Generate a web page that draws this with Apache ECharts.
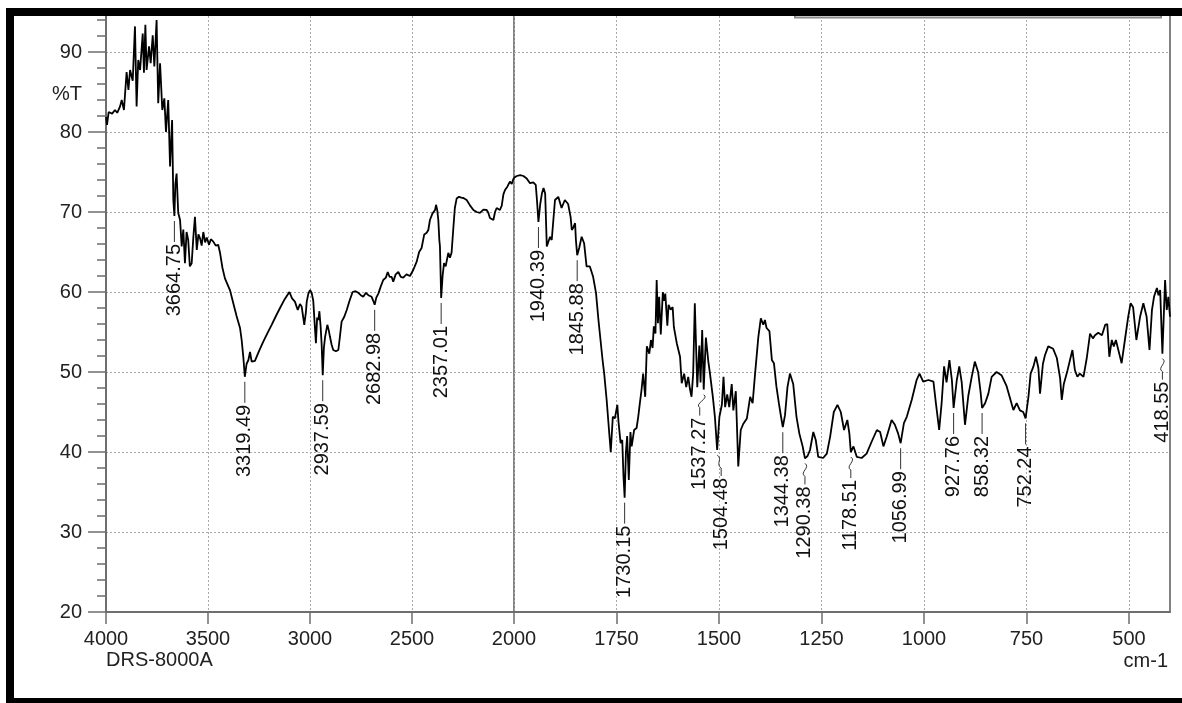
<!DOCTYPE html>
<html>
<head>
<meta charset="utf-8">
<title>FT-IR spectrum</title>
<script src="https://cdn.jsdelivr.net/npm/echarts@6/dist/echarts.min.js"></script>
<style>
  html, body { margin: 0; padding: 0; background: #fff; }
  #chart { width: 1182px; height: 703px; }
</style>
</head>
<body>
<div id="chart"></div>
<script>
// Spectrum trace, 4000-2000 cm-1 (compressed scale): [wavenumber, %T]
const spectrumHigh = [
  [4000, 81.9], [3995, 80.9], [3987, 82.5], [3970, 82.3], [3956, 82.75], [3945, 82.4],
  [3931, 83.2], [3923, 84], [3912, 82.75], [3899, 87.5], [3890, 85.25], [3882, 87.75],
  [3869, 86.4], [3858, 93.2], [3850, 83.2], [3842, 89], [3833, 87.75], [3820, 92.3],
  [3814, 87.4], [3807, 93.4], [3801, 87.75], [3789, 90.7], [3781, 88.6], [3771, 92.1],
  [3763, 88.2], [3752, 94], [3744, 83.6], [3735, 88.6], [3724, 82.75], [3714, 84.2],
  [3706, 80.0], [3695, 84], [3686, 75.7], [3676, 81.5], [3670, 71.5], [3660, 73.5],
  [3654, 74.8], [3646, 69.9], [3637, 69], [3633, 67.4], [3629, 65.7], [3621, 67.8],
  [3613, 63.6], [3605, 67.5], [3597, 66.5], [3589, 63.2], [3580, 63.6], [3572, 66.8],
  [3564, 69.4], [3555, 65.25], [3547, 67.2], [3539, 66.7], [3531, 65.8], [3523, 67.5],
  [3514, 66.2], [3506, 66.8], [3495, 65.9], [3486, 66.6], [3474, 66.3], [3462, 65.8],
  [3450, 65.9], [3441, 64.9], [3429, 63], [3417, 61.7], [3408, 61.5], [3392, 60.2],
  [3376, 58.6], [3360, 57], [3343, 55.5], [3335, 54], [3327, 51.9], [3311, 51.0],
  [3302, 51.5], [3294, 52.5], [3286, 51.3], [3270, 51.4], [3250, 52.6], [3229, 53.8],
  [3208, 54.9], [3188, 55.9], [3167, 57], [3147, 58], [3124, 59.1], [3101, 60],
  [3088, 59.2], [3074, 58.8], [3060, 57.75], [3049, 58.5], [3041, 58.2], [3033, 56.8],
  [3028, 55.9], [3020, 57.5], [3016, 58.8], [3008, 59.8], [3000, 60.25], [2992, 59.9],
  [2984, 58.9], [2977, 56], [2971, 53.6], [2965, 56.8], [2959, 56.5], [2954, 57.6],
  [2948, 55.7], [2943, 53.5], [2932, 53], [2926, 54.4], [2915, 55.9], [2908, 55.2],
  [2902, 54.4], [2894, 53.4], [2886, 52.75], [2873, 52.6], [2861, 52.75], [2853, 54.5],
  [2845, 56.3], [2832, 56.9], [2820, 57.75], [2805, 59], [2791, 60], [2777, 60.1],
  [2763, 59.9], [2751, 59.6], [2739, 59.4], [2726, 59.9], [2714, 59.6], [2705, 59.8],
  [2698, 59.4], [2690, 58.9], [2675, 59.3], [2665, 59.8], [2653, 60.7], [2641, 61.5],
  [2628, 61.8], [2619, 62.5], [2610, 61.9], [2600, 61.9], [2592, 61.3], [2580, 62.2],
  [2567, 62.5], [2555, 61.9], [2543, 61.8], [2527, 62.2], [2510, 62], [2494, 62.75],
  [2477, 63.8], [2465, 65], [2453, 65.5], [2440, 67.2], [2428, 67.4], [2420, 67.75],
  [2412, 69], [2400, 69.8], [2387, 70.25], [2382, 70.9], [2376, 70.2], [2371, 69],
  [2366, 66.5], [2363, 65.7], [2350, 62], [2343, 63.6], [2335, 63.2], [2330, 63],
  [2322, 64.9], [2314, 64.3], [2306, 64.9], [2298, 67.75], [2290, 70.5], [2281, 71.7],
  [2270, 71.9], [2258, 71.8], [2248, 71.75], [2240, 71.6], [2232, 71.5], [2215, 70.8],
  [2199, 70.25], [2183, 70], [2167, 69.9], [2150, 70.3], [2134, 70.25], [2126, 69.9],
  [2118, 69.25], [2110, 69.3], [2101, 69], [2093, 70], [2085, 70.5], [2077, 70.4],
  [2069, 70.25], [2060, 70.8], [2052, 72.2], [2044, 72.75], [2032, 73.2], [2020, 73.8],
  [2011, 73.5], [2005, 74.0], [2000, 74.3]
];

// Spectrum trace, 2000-400 cm-1 (expanded scale): [wavenumber, %T]
const spectrumLow = [
  [2000, 74.3], [1993, 74.5], [1985, 74.6], [1977, 74.5], [1969, 74.2], [1961, 73.6],
  [1953, 73.7], [1947, 73.4], [1944, 71.5], [1936, 71], [1932, 72.3], [1928, 73],
  [1924, 72.3], [1920, 65.7], [1916, 65.7], [1912, 66.9], [1908, 66.5], [1904, 69],
  [1900, 71.5], [1892, 71.9], [1884, 70.5], [1876, 71.5], [1868, 71], [1862, 69.4],
  [1859, 67.75], [1855, 68.1], [1851, 68.6], [1849, 66.5], [1841, 65.5], [1835, 66.9],
  [1829, 66.1], [1823, 63.2], [1815, 63.2], [1807, 61.9], [1800, 59.9], [1794, 56.5],
  [1789, 54], [1784, 51.5], [1780, 49.8], [1774, 46.5], [1767, 41.9], [1764, 40],
  [1759, 44.4], [1754, 44.2], [1748, 45.9], [1745, 43.7], [1740, 41.1], [1736, 41.5],
  [1733, 37], [1727, 40], [1724, 42], [1720, 36.5], [1716, 42.5], [1713, 40.7],
  [1707, 42.75], [1701, 43], [1697, 44.4], [1693, 46.1], [1689, 47.75], [1685, 49.8],
  [1680, 46.9], [1676, 53.2], [1670, 52.3], [1666, 54], [1662, 53], [1659, 55.7],
  [1655, 54.8], [1652, 61.5], [1649, 56.1], [1646, 59.4], [1642, 54.7], [1637, 60],
  [1634, 58.9], [1631, 59.8], [1626, 55.8], [1623, 58.4], [1618, 57.8], [1613, 58.1],
  [1610, 55.6], [1603, 53.6], [1595, 51.9], [1591, 48.6], [1585, 49.8], [1580, 48.1],
  [1575, 49.4], [1571, 47.9], [1567, 46.9], [1563, 49.8], [1559, 58.6], [1553, 48.1],
  [1548, 53.3], [1545, 48.7], [1541, 55.25], [1532, 54.3], [1526, 51.3], [1522, 49.8],
  [1515, 46.9], [1510, 44.4], [1499, 44.4], [1493, 45.9], [1489, 49.4], [1485, 45.6],
  [1480, 47.2], [1475, 45.6], [1469, 48.5], [1465, 45.2], [1459, 47.6], [1453, 38.2],
  [1447, 42.75], [1441, 43.5], [1432, 44.2], [1424, 46.9], [1418, 46.1], [1412, 49.8],
  [1404, 54.4], [1398, 56.7], [1392, 55.9], [1388, 56.5], [1384, 55.5], [1377, 55.1],
  [1371, 51.5], [1366, 51.1], [1360, 48.2], [1354, 46.1], [1349, 44.5], [1339, 44.6],
  [1333, 48.1], [1327, 49.8], [1319, 48.5], [1311, 44.4], [1304, 42.3], [1296, 40.7],
  [1284, 39.5], [1278, 40.25], [1270, 42.5], [1264, 41.5], [1258, 39.4], [1246, 39.25],
  [1237, 39.8], [1229, 41.9], [1220, 45], [1211, 45.9], [1203, 45], [1195, 42.75],
  [1187, 44], [1182, 42.3], [1172, 40.7], [1164, 39.4], [1152, 39.25], [1140, 39.8],
  [1128, 41.25], [1115, 42.75], [1107, 42.5], [1099, 40.7], [1091, 41.9], [1079, 44],
  [1071, 43.4], [1063, 42.3], [1049, 43.6], [1042, 44.4], [1030, 46.5], [1018, 49],
  [1011, 49.8], [1002, 48.8], [989, 49], [977, 48.8], [971, 46.1], [963, 42.75],
  [957, 46.1], [951, 50.7], [945, 48.7], [938, 51.5], [932, 49], [920, 49],
  [914, 50.7], [908, 48.7], [900, 43.4], [892, 47], [884, 49.3], [876, 51.3],
  [868, 50], [862, 47.5], [851, 46.1], [843, 47.3], [835, 49.4], [823, 50],
  [811, 49.6], [799, 48.3], [790, 46.7], [782, 45.25], [774, 46.1], [766, 45.2],
  [758, 45], [745, 47], [740, 49.8], [733, 50.7], [727, 51.9], [721, 50.5],
  [717, 47.3], [710, 51], [705, 52.1], [697, 53.2], [685, 52.9], [676, 51.75],
  [668, 49.2], [664, 46.5], [659, 48.5], [650, 50.2], [642, 51.9], [638, 52.75],
  [632, 50.25], [626, 49.4], [620, 49.8], [611, 49.4], [603, 51.75], [595, 54.8],
  [588, 54.2], [583, 54.6], [575, 54.9], [566, 54.6], [558, 55.9], [553, 56],
  [548, 51.9], [542, 54], [537, 53.2], [532, 54], [526, 52.75], [518, 51.1],
  [510, 54], [502, 56.9], [496, 58.6], [490, 58.1], [482, 54], [473, 56.9],
  [465, 58.6], [457, 56.9], [450, 52.75], [444, 57.75], [439, 59.4], [432, 60.5],
  [428, 59.6], [424, 60.25], [412, 61.5], [408, 57.75], [404, 59.4], [400, 56.9]
];

// Picked band minima: wavenumber (cm-1) and transmittance (%T)
const peakWavenumbers = [
  3664.75, 3319.49, 2937.59, 2682.98, 2357.01, 1940.39, 1845.88, 1730.15, 1537.27,
  1504.48, 1344.38, 1290.38, 1178.51, 1056.99, 927.76, 858.32, 752.24, 418.55
];
const peakTransmittance = [
  69.5, 49.4, 49.6, 58.4, 59.25, 68.75, 64.6, 34.3, 47.8,
  40.25, 43.1, 39.2, 40.0, 41.1, 45.5, 45.5, 44.2, 52.3
];

// Axis ticks
const xTicksHigh = [4000, 3500, 3000, 2500, 2000];
const xTicksLow = [1750, 1500, 1250, 1000, 750, 500];
const yTicks = [20, 30, 40, 50, 60, 70, 80, 90];

// Peaks whose label is tied to the band with a kinked leader,
// and sideways nudges (px) for labels that would otherwise collide
const KINKED = [1537.27, 1504.48, 1290.38, 1178.51, 418.55];
const LABEL_NUDGE = { '1537.27': -4, '1504.48': 4 };

const FONT = '"Liberation Sans", Arial, Helvetica, sans-serif';
const AXIS_COLOR = '#6e6e6e';
const GRID_LINE = { show: true, lineStyle: { color: '#a8a8a8', type: [2, 2], width: 1 } };

function mergePeaks(trace, lo, hi) {
  const pts = trace.slice();
  peakWavenumbers.forEach(function (wn, i) {
    if (wn >= lo && wn <= hi) pts.push([wn, peakTransmittance[i]]);
  });
  return pts.sort(function (a, b) { return b[0] - a[0]; });
}

function peakData(lo, hi) {
  const out = [];
  peakWavenumbers.forEach(function (wn, i) {
    if (wn >= lo && wn <= hi) out.push([wn, peakTransmittance[i]]);
  });
  return out;
}

function renderPeak(params, api) {
  const wn = api.value(0);
  const label = wn.toFixed(2);
  const p = api.coord([wn, api.value(1)]);
  const x = p[0];
  const lx = x + (LABEL_NUDGE[label] || 0);
  const y1 = p[1] + 5;
  const y2 = y1 + 21;
  const stroke = { stroke: '#333', lineWidth: 1, fill: null };
  const children = [];
  if (KINKED.indexOf(wn) >= 0) {
    children.push({ type: 'bezierCurve', shape: { x1: x, y1: y1, cpx1: x + 6, cpy1: y1 + 4, cpx2: lx - 6, cpy2: y1 + 9, x2: lx, y2: y1 + 13 }, style: stroke });
    children.push({ type: 'line', shape: { x1: lx, y1: y1 + 13, x2: lx, y2: y2 }, style: stroke });
  } else {
    children.push({ type: 'line', shape: { x1: x, y1: y1, x2: x, y2: y2 }, style: stroke });
  }
  children.push({
    type: 'text', x: lx, y: y2 + 2, rotation: Math.PI / 2,
    style: { text: label, font: '20px ' + FONT, fill: '#111', align: 'right', verticalAlign: 'middle' }
  });
  return { type: 'group', children: children };
}

const chart = echarts.init(document.getElementById('chart'), null, { renderer: 'canvas' });

const xCommon = {
  type: 'value', inverse: true,
  axisLine: { show: true, lineStyle: { color: AXIS_COLOR, width: 2 } },
  axisTick: { show: true, inside: false, lineStyle: { color: AXIS_COLOR, width: 1.5 } },
  axisLabel: { color: '#222', fontSize: 20, fontFamily: FONT, margin: 17,
    formatter: function (v) { return String(v); } },
  splitLine: { show: false }
};

const option = {
  animation: false,
  backgroundColor: '#fff',
  grid: [
    { left: 106, width: 408, top: -28, bottom: 91, containLabel: false, outerBoundsMode: 'none' },
    { left: 514, right: 12, top: -28, bottom: 91, containLabel: false, outerBoundsMode: 'none',
      show: true, borderColor: '#5a5a5a', borderWidth: 1.5, backgroundColor: 'transparent' }
  ],
  xAxis: [
    Object.assign({}, xCommon, {
      gridIndex: 0, min: 2000, max: 4000, interval: 500,
      axisTick: Object.assign({}, xCommon.axisTick, { length: 12 }),
      axisLabel: Object.assign({}, xCommon.axisLabel, {
        formatter: function (v) { return xTicksHigh.indexOf(v) >= 0 ? String(v) : ''; }
      }),
      splitLine: GRID_LINE
    }),
    Object.assign({}, xCommon, {
      gridIndex: 0, min: 2000, max: 4000, interval: 100,
      axisLine: { show: false },
      axisTick: Object.assign({}, xCommon.axisTick, { length: 6 }),
      axisLabel: { show: false }
    }),
    Object.assign({}, xCommon, {
      gridIndex: 1, min: 400, max: 2000,
      axisTick: Object.assign({}, xCommon.axisTick, { length: 12, customValues: xTicksLow }),
      axisLabel: Object.assign({}, xCommon.axisLabel, { customValues: xTicksLow }),
      splitLine: GRID_LINE
    }),
    Object.assign({}, xCommon, {
      gridIndex: 1, min: 400, max: 2000, interval: 50,
      axisLine: { show: false },
      axisTick: Object.assign({}, xCommon.axisTick, { length: 6 }),
      axisLabel: { show: false }
    })
  ],
  yAxis: [
    {
      type: 'value', gridIndex: 0, min: 20, max: 100, interval: 10,
      axisLine: { show: true, lineStyle: { color: AXIS_COLOR, width: 2 } },
      axisTick: { show: true, inside: false, length: 18, lineStyle: { color: AXIS_COLOR, width: 1.5 } },
      minorTick: { show: true, splitNumber: 5, length: 9, lineStyle: { color: AXIS_COLOR, width: 1.5 } },
      axisLabel: {
        color: '#222', fontSize: 20, fontFamily: FONT, margin: 24,
        formatter: function (v) { return yTicks.indexOf(v) >= 0 ? String(v) : ''; }
      },
      splitLine: GRID_LINE
    },
    {
      type: 'value', gridIndex: 1, min: 20, max: 100, interval: 10,
      axisLine: { show: false }, axisTick: { show: false }, axisLabel: { show: false },
      splitLine: GRID_LINE
    }
  ],
  series: [
    {
      type: 'line', xAxisIndex: 0, yAxisIndex: 0, symbol: 'none', z: 3,
      lineStyle: { color: '#000', width: 1.8 },
      data: mergePeaks(spectrumHigh, 2000, 4000)
    },
    {
      type: 'line', xAxisIndex: 2, yAxisIndex: 1, symbol: 'none', z: 3,
      lineStyle: { color: '#000', width: 1.8 },
      data: mergePeaks(spectrumLow, 400, 2000)
    },
    {
      type: 'custom', xAxisIndex: 0, yAxisIndex: 0, z: 4,
      renderItem: renderPeak, data: peakData(2000, 4000), encode: { x: 0, y: 1 }
    },
    {
      type: 'custom', xAxisIndex: 2, yAxisIndex: 1, z: 4,
      renderItem: renderPeak, data: peakData(400, 2000), encode: { x: 0, y: 1 }
    }
  ],
  graphic: [
    { type: 'text', left: 52, top: 84, z: 50,
      style: { text: '%T', font: '20px ' + FONT, fill: '#222' } },
    { type: 'text', left: 106, top: 650, z: 50,
      style: { text: 'DRS-8000A', font: '20px ' + FONT, fill: '#222' } },
    { type: 'text', right: 14, top: 651, z: 50,
      style: { text: 'cm-1', font: '20px ' + FONT, fill: '#222' } },
    // header box running under the frame
    { type: 'rect', z: 90, shape: { x: 795, y: -10, width: 366, height: 27.5 },
      style: { fill: '#fff', stroke: '#8a8a8a', lineWidth: 2 } },
    // page margin and black frame
    { type: 'rect', z: 100, shape: { x: 0, y: 0, width: 1182, height: 8 }, style: { fill: '#fff' } },
    { type: 'rect', z: 100, shape: { x: 0, y: 0, width: 6, height: 703 }, style: { fill: '#fff' } },
    { type: 'rect', z: 101, shape: { x: 6, y: 8, width: 1176, height: 8 }, style: { fill: '#000' } },
    { type: 'rect', z: 101, shape: { x: 6, y: 8, width: 8, height: 695 }, style: { fill: '#000' } },
    { type: 'rect', z: 101, shape: { x: 6, y: 698, width: 1176, height: 5 }, style: { fill: '#000' } }
  ]
};

chart.setOption(option);
</script>
</body>
</html>
